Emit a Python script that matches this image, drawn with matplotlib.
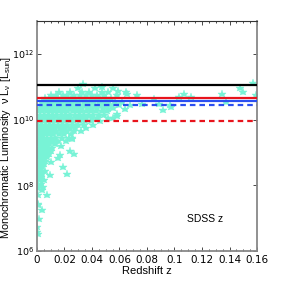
import matplotlib
matplotlib.use("Agg")
import matplotlib.pyplot as plt
import numpy as np
from matplotlib.ticker import FixedLocator, MultipleLocator, NullLocator

# ---- data (redshift z, log10 luminosity) ----
rows = {
    10.95: [0.030, 0.042, 0.055],
    10.85: [0.016, 0.024, 0.033, 0.038, 0.047, 0.052, 0.065],
    10.75: [0.010, 0.014, 0.019, 0.022, 0.027, 0.031, 0.036, 0.040, 0.044, 0.049, 0.058],
    10.65: [0.006, 0.009, 0.012, 0.015, 0.018, 0.021, 0.025, 0.028, 0.032, 0.035, 0.039, 0.043, 0.046, 0.050, 0.054],
    10.55: [0.004, 0.007, 0.010, 0.013, 0.017, 0.020, 0.023, 0.026, 0.030, 0.034, 0.037, 0.041, 0.045, 0.048, 0.052, 0.057, 0.062],
    10.45: [0.003, 0.006, 0.009, 0.012, 0.015, 0.018, 0.022, 0.025, 0.028, 0.031, 0.035, 0.038, 0.042, 0.046, 0.050, 0.053, 0.060, 0.068],
    10.35: [0.002, 0.005, 0.008, 0.011, 0.014, 0.017, 0.020, 0.024, 0.027, 0.030, 0.033, 0.037, 0.040, 0.044, 0.048, 0.055],
    10.25: [0.001, 0.004, 0.007, 0.010, 0.013, 0.016, 0.019, 0.022, 0.026, 0.029, 0.032, 0.036, 0.039, 0.043, 0.047, 0.051],
    10.15: [0.002, 0.005, 0.008, 0.011, 0.014, 0.018, 0.021, 0.024, 0.028, 0.031, 0.034, 0.038, 0.041, 0.045, 0.049],
    10.05: [0.001, 0.003, 0.006, 0.009, 0.012, 0.016, 0.019, 0.022, 0.025, 0.029, 0.033, 0.036, 0.040, 0.044, 0.052],
    9.95: [0.002, 0.005, 0.008, 0.011, 0.014, 0.017, 0.020, 0.024, 0.027, 0.031, 0.035, 0.039, 0.046],
    9.85: [0.001, 0.003, 0.006, 0.009, 0.012, 0.015, 0.019, 0.022, 0.026, 0.030, 0.034, 0.041],
    9.75: [0.002, 0.004, 0.007, 0.010, 0.013, 0.017, 0.020, 0.024, 0.028, 0.036],
    9.65: [0.001, 0.003, 0.005, 0.008, 0.011, 0.014, 0.018, 0.022, 0.027, 0.032],
    9.55: [0.002, 0.004, 0.006, 0.009, 0.012, 0.016, 0.020, 0.025],
    9.45: [0.001, 0.003, 0.005, 0.007, 0.010, 0.013, 0.018, 0.023],
    9.35: [0.002, 0.004, 0.006, 0.008, 0.011, 0.015, 0.021],
    9.25: [0.001, 0.003, 0.005, 0.007, 0.009, 0.013],
    9.15: [0.002, 0.004, 0.006, 0.008, 0.011],
    9.05: [0.001, 0.003, 0.005, 0.007, 0.010],
    8.95: [0.002, 0.004, 0.006, 0.009],
    8.85: [0.001, 0.003, 0.005, 0.007],
    8.75: [0.002, 0.004, 0.006],
    8.65: [0.001, 0.003, 0.005],
    8.55: [0.002, 0.004],
    8.45: [0.001, 0.003, 0.006],
    8.35: [0.002, 0.004],
    8.25: [0.001, 0.003],
    8.15: [0.002, 0.005],
    8.05: [0.001, 0.003],
}

extra_z = [0.0175, 0.024, 0.027, 0.0153, 0.0167, 0.0102, 0.019, 0.0218, 0.0095,
           0.0073, 0.0036, 0.0015, 0.0003, 0.0003, 0.0007, 0.0007, 0.0007, 0.0073,
           0.003, 0.0116, 0.0255, 0.0044, 0.0036, 0.0007, 0.0007,
           0.0764, 0.085, 0.0887, 0.0916, 0.0975, 0.103, 0.107, 0.112, 0.1345,
           0.1375, 0.1476, 0.150, 0.157, 0.159, 0.0967, 0.0553, 0.058, 0.064,
           0.0655, 0.0727, 0.0335, 0.047, 0.059, 0.057, 0.052, 0.058, 0.0255, 0.020]
extra_logL = [9.21, 9.03, 8.94, 8.82, 8.91, 8.70, 8.55, 8.33, 8.30,
              7.70, 7.24, 6.97, 6.58, 6.73, 7.42, 7.70, 7.91, 9.00,
              8.18, 9.39, 9.42, 7.94, 7.85, 7.39, 6.52,
              10.48, 10.64, 10.48, 10.30, 10.39, 10.70, 10.79, 10.70, 10.79,
              10.55, 10.97, 10.85, 11.12, 10.76, 10.45, 10.06, 10.18, 10.33,
              10.79, 10.76, 11.09, 11.00, 10.88, 10.48, 10.33, 10.12, 9.45, 9.73]

# horizontal reference levels [L_sun]
black_solid = 1.15e11
red_solid = 4.4e10
blue_solid = 3.8e10
blue_dashed = 2.8e10
red_dashed = 8.9e9

x_ticks = [0, 0.02, 0.04, 0.06, 0.08, 0.1, 0.12, 0.14, 0.16]
x_ticklabels = ["0", "0.02", "0.04", "0.06", "0.08", "0.1", "0.12", "0.14", "0.16"]
y_ticks = [1e6, 1e8, 1e10, 1e12]
y_ticklabels = [r'$\mathregular{10^{6}}$', r'$\mathregular{10^{8}}$',
                r'$\mathregular{10^{10}}$', r'$\mathregular{10^{12}}$']

z_vals = []
logL_vals = []
for lv, zs in rows.items():
    for zz in zs:
        z_vals.append(zz)
        logL_vals.append(lv)
z_vals += extra_z
logL_vals += extra_logL
z_vals = np.array(z_vals)
L_vals = 10 ** np.array(logL_vals)

fam = ['Liberation Sans Narrow', 'DejaVu Sans']
plt.rcParams['font.family'] = fam
plt.rcParams['mathtext.fontset'] = 'custom'
plt.rcParams['mathtext.rm'] = 'Liberation Sans Narrow'
plt.rcParams['mathtext.it'] = 'Liberation Sans Narrow:italic'
plt.rcParams['mathtext.bf'] = 'Liberation Sans Narrow:bold'

fig = plt.figure(figsize=(2.84, 2.84), dpi=100)
ax = fig.add_axes([0.130, 0.116, 0.775, 0.810])

ax.plot(z_vals, L_vals, linestyle='none', marker='*', color='#78f3d6',
        markersize=6.2, markeredgewidth=0.3, zorder=2)

lw = 1.6
ax.axhline(black_solid, color='black', lw=lw, zorder=3)
ax.axhline(red_solid, color='#e8141c', lw=lw, zorder=3)
ax.axhline(blue_solid, color='#2a4ef0', lw=lw, zorder=3)
ax.axhline(blue_dashed, color='#2a4ef0', lw=lw, ls=(0, (2.5, 1.8)), zorder=3)
ax.axhline(red_dashed, color='#e8141c', lw=lw, ls=(0, (2.5, 1.8)), zorder=3)

ax.set_yscale('log')
ax.set_xlim(0, 0.16)
ax.set_ylim(1e6, 1e13)
ax.yaxis.set_major_locator(FixedLocator(y_ticks))
ax.yaxis.set_minor_locator(NullLocator())
ax.set_yticks(y_ticks)
ax.set_yticklabels(y_ticklabels)
ax.set_xticks(x_ticks)
ax.set_xticklabels(x_ticklabels)
ax.xaxis.set_minor_locator(MultipleLocator(0.005))

ax.tick_params(which='both', direction='in', top=True, right=True, pad=2.5)
ax.tick_params(axis='x', labelsize=7.5)
ax.tick_params(axis='y', labelsize=6.8, pad=2)
ax.tick_params(which='major', length=3, width=0.5)
ax.tick_params(which='minor', length=1.5, width=0.5)

for s in ['left', 'right', 'bottom']:
    ax.spines[s].set_color('#888888')
    ax.spines[s].set_linewidth(1.3)
ax.spines['top'].set_color('#333333')
ax.spines['top'].set_linewidth(0.8)

lab_fam = ['Liberation Sans', 'DejaVu Sans']
ax.set_xlabel('Redshift z', fontsize=8, labelpad=1, family=lab_fam)
ax.set_ylabel('Monochromatic Luminosity  ν L$_\\mathregular{ν}$ [L$_\\mathregular{sun}$]',
              fontsize=7.8, family=lab_fam, va='center')
ax.yaxis.set_label_coords(-0.14, 0.45)
ax.text(0.122, 10 ** 6.97, 'SDSS z', fontsize=7.5, ha='center', va='center', family=lab_fam)

fig.savefig('out.png', dpi=100)
